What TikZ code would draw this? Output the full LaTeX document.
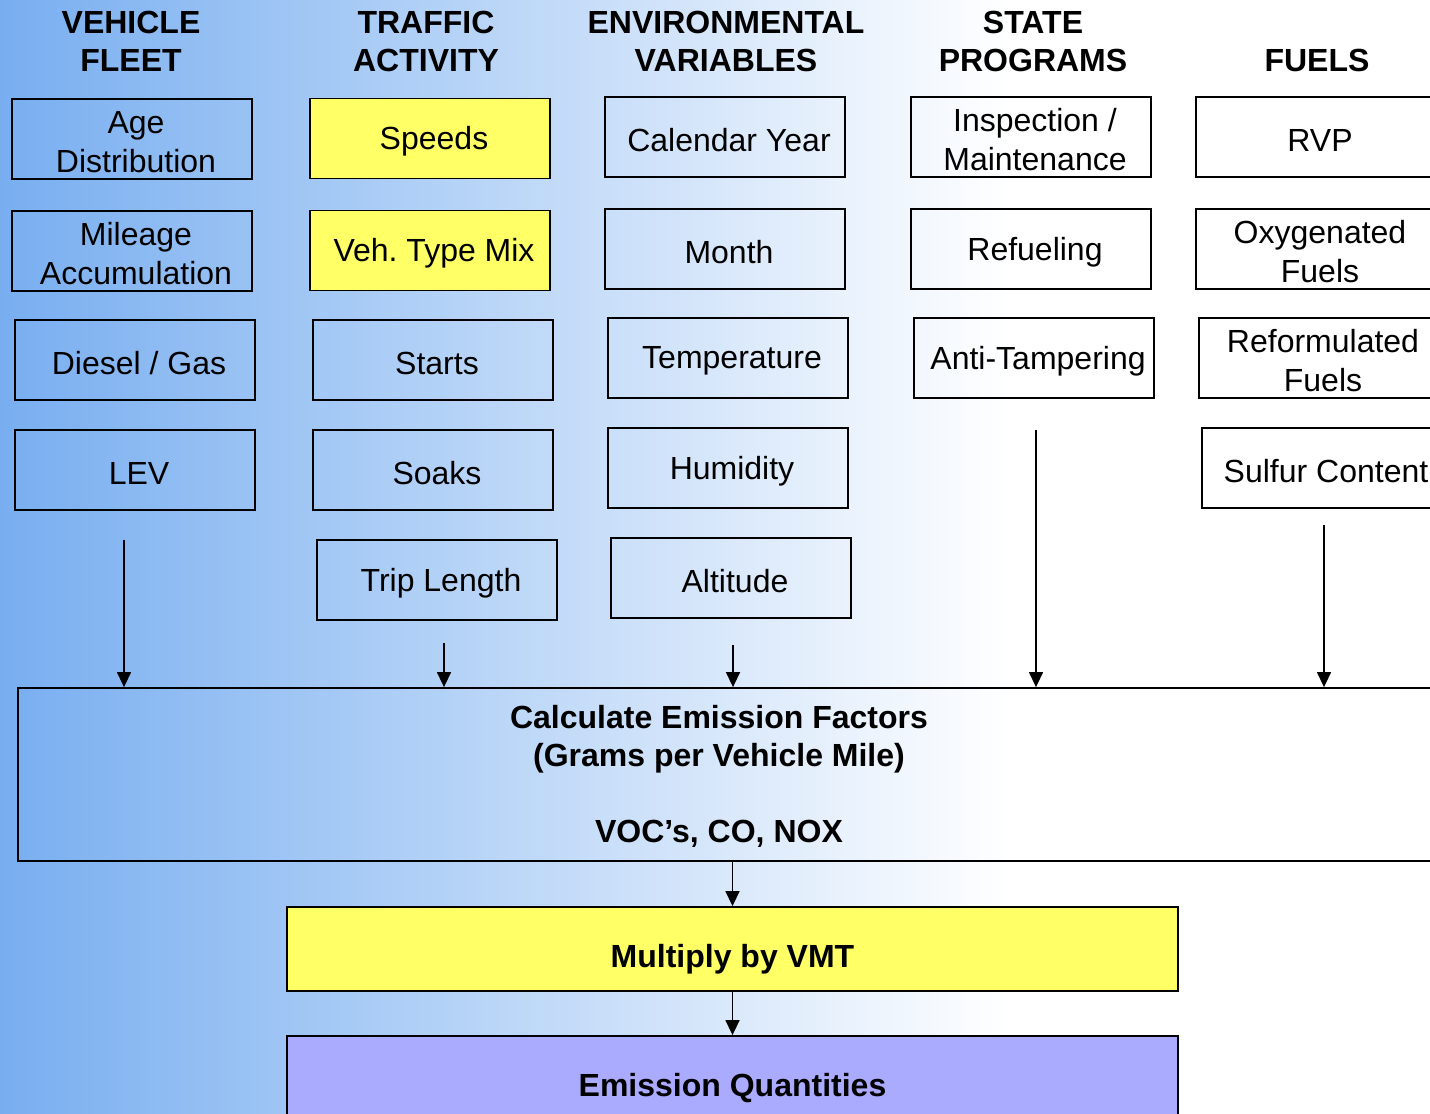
\documentclass[tikz,border=0pt]{standalone}
\usepackage{fontspec}
\setmainfont{Liberation Sans}
\frenchspacing
\usetikzlibrary{arrows.meta,positioning}
\definecolor{bgblue}{RGB}{120,174,240}
\definecolor{boxyellow}{RGB}{255,255,102}
\definecolor{boxviolet}{RGB}{170,170,255}
\tikzset{
  inbox/.style={rectangle, draw=black, line width=1.6pt, minimum width=240pt, minimum height=80pt,
                inner sep=0pt,
                label={[align=center, font=\fontsize{32}{39}\selectfont, xshift=4pt, yshift=-3pt]center:#1}},
  inyellow/.style={inbox=#1, fill=boxyellow},
  heading/.style={align=center, font=\bfseries\fontsize{32}{38}\selectfont},
  boldtext/.style={align=center, font=\bfseries\fontsize{32}{38}\selectfont},
  bigframe/.style={rectangle, draw=black, line width=1.8pt, inner sep=0pt},
  bigbox/.style={bigframe, label={[boldtext, yshift=-10pt]center:#1}},
  arrow/.style={-{Triangle[length=15pt,width=14pt]}, line width=1.4pt, black},
}
\begin{document}
\begin{tikzpicture}[x=1pt,y=-1pt]
\useasboundingbox (0,0) rectangle (1430,1114);
% background
\shade[left color=bgblue, right color=white] (0,0) rectangle (1010,1114);
\fill[white] (1010,0) rectangle (1430,1114);
% column headings
\node[heading] (hfleet) at (131,41) {VEHICLE\\FLEET};
\node[heading] (htraffic) at (426,41) {TRAFFIC\\ACTIVITY};
\node[heading] (henv) at (726,41) {ENVIRONMENTAL\\VARIABLES};
\node[heading] (hstate) at (1033,41) {STATE\\PROGRAMS};
\node[heading] (hfuels) at (1317,60) {FUELS};
% input boxes
\foreach \name/\x/\y/\txt in {age/132/139/{Age\\Distribution}, mileage/132/251/{Mileage\\Accumulation},
    diesel/135/360/{Diesel / Gas}, lev/135/470/{LEV},
    starts/433/360/{Starts}, soaks/433/470/{Soaks}, trip/437/580/{Trip Length},
    calyear/725/137/{Calendar Year}, month/725/249/{Month}, temp/728/358/{Temperature},
    humid/728/468/{Humidity}, alt/731/578/{Altitude},
    inspect/1031/137/{Inspection /\\Maintenance}, refuel/1031/249/{Refueling}, tamper/1034/358/{Anti-Tampering},
    rvp/1316/137/{RVP}, oxy/1316/249/{Oxygenated\\Fuels}, reform/1319/358/{Reformulated\\Fuels},
    sulfur/1322/468/{Sulfur Content}}
  \node[inbox=\txt] (\name) at (\x,\y) {};
\node[inyellow=Speeds] (speeds) at (430,138.5) {};
\node[inyellow={Veh. Type Mix}] (vehmix) at (430,250.5) {};
% calculation chain
\node[bigframe, minimum width=1424pt, minimum height=173pt,
      label={[boldtext, xshift=-11pt, yshift=-2pt]center:Calculate Emission Factors\\(Grams per Vehicle Mile)\\[38pt]VOC’s, CO, NOX}]
      (calc) at (730,774.5) {};
\node[bigbox=Multiply by VMT, fill=boxyellow, minimum width=891pt, minimum height=84pt] (vmt) at (732.5,949) {};
\node[bigbox=Emission Quantities, fill=boxviolet, minimum width=891pt, minimum height=84pt] (qty) at (732.5,1078) {};
% arrows into the calculation
\coordinate (fleetout) at (124,540);
\coordinate (trafficout) at (444,643);
\coordinate (envout) at (733,645);
\coordinate (stateout) at (1036,430);
\coordinate (fuelsout) at (1324,525);
\foreach \c in {fleetout, trafficout, envout, stateout, fuelsout}
  \draw[arrow] (\c) -- (\c |- calc.north);
\draw[arrow] (vmt.north |- calc.south) -- (vmt.north);
\draw[arrow] (vmt) -- (qty);
\end{tikzpicture}
\end{document}
